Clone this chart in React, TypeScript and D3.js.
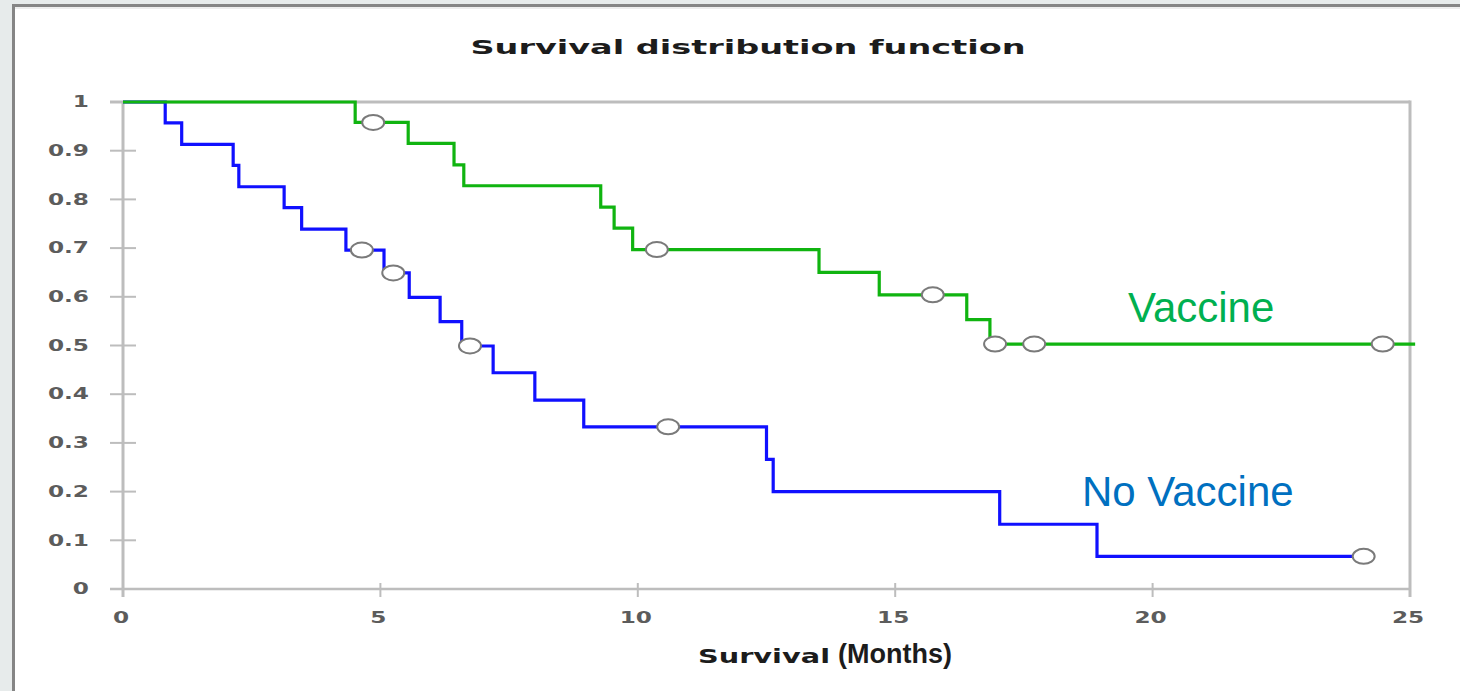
import { useMemo } from 'react';
import * as d3 from 'd3';

// Kaplan-Meier step data (months, survival)
const noVaccineTimes = [0, 0.82, 1.14, 2.14, 2.25, 3.13, 3.47, 4.33, 5.07, 5.56, 6.16, 6.58, 7.19, 8.0, 8.95, 12.5, 12.63, 17.03, 18.92];
const noVaccineSurv = [1, 0.957, 0.913, 0.87, 0.826, 0.783, 0.739, 0.696, 0.649, 0.599, 0.549, 0.499, 0.444, 0.388, 0.333, 0.266, 0.2, 0.133, 0.067];
const noVaccineEnd = 24.1;
const noVaccineCensored = [4.64, 5.25, 6.74, 10.59, 24.1];

const vaccineTimes = [0, 4.51, 5.54, 6.43, 6.62, 9.28, 9.54, 9.9, 13.52, 14.69, 16.39, 16.84];
const vaccineSurv = [1, 0.958, 0.915, 0.871, 0.828, 0.784, 0.741, 0.697, 0.65, 0.604, 0.553, 0.503];
const vaccineEnd = 25.1;
const vaccineCensored = [4.86, 10.37, 15.73, 16.94, 17.7, 24.47];

const yTicks = [0, 0.1, 0.2, 0.3, 0.4, 0.5, 0.6, 0.7, 0.8, 0.9, 1];
const xTicks = [0, 5, 10, 15, 20, 25];

const W = 1460;
const H = 691;
const PLOT = { left: 123, right: 1410, top: 102, bottom: 589 };
const AXIS_GRAY = '#bdbdbd';
const LABEL_GRAY = '#5c5c5c';
const TICK_FONT = '"DejaVu Sans", Verdana, sans-serif';
const ARIAL = '"Liberation Sans", Arial, sans-serif';

type Pt = { t: number; s: number };

function buildSteps(times: number[], surv: number[], end: number): Pt[] {
  const pts = times.map((t, i) => ({ t, s: surv[i] }));
  pts.push({ t: end, s: surv[surv.length - 1] });
  return pts;
}

function survAt(times: number[], surv: number[], t: number) {
  let v = surv[0];
  times.forEach((tt, i) => {
    if (tt <= t) v = surv[i];
  });
  return v;
}

export default function App() {
  const x = useMemo(() => d3.scaleLinear().domain([0, 25]).range([PLOT.left, PLOT.right]), []);
  const y = useMemo(() => d3.scaleLinear().domain([0, 1]).range([PLOT.bottom, PLOT.top]), []);

  const line = d3.line<Pt>()
    .x(d => x(d.t))
    .y(d => y(d.s))
    .curve(d3.curveStepAfter);

  const series = [
    { key: 'no', color: '#1010ff', pts: buildSteps(noVaccineTimes, noVaccineSurv, noVaccineEnd),
      cens: noVaccineCensored.map(t => ({ t, s: survAt(noVaccineTimes, noVaccineSurv, t) })) },
    { key: 'vac', color: '#10b410', pts: buildSteps(vaccineTimes, vaccineSurv, vaccineEnd),
      cens: vaccineCensored.map(t => ({ t, s: survAt(vaccineTimes, vaccineSurv, t) })) },
  ];

  return (
    <svg width={W} height={H} style={{ position: 'absolute', left: 0, top: 0 }}>
      {/* page background + slide frame */}
      <rect x={0} y={0} width={W} height={H} fill="#e7ebeb" />
      <rect x={13} y={6} width={W} height={H} fill="#ffffff" />
      <line x1={13.5} x2={13.5} y1={4} y2={H} stroke="#858585" strokeWidth={3} />
      <line x1={12} x2={W} y1={5.5} y2={5.5} stroke="#858585" strokeWidth={3} />
      <line x1={15} x2={W} y1={8} y2={8} stroke="#dcdcdc" strokeWidth={1} />

      {/* title */}
      <text x={748} y={54} textAnchor="middle" fontFamily={TICK_FONT} fontWeight="bold" fontSize={20}
        fill="#1c1c1c" textLength={555} lengthAdjust="spacingAndGlyphs">
        Survival distribution function
      </text>

      {/* plot frame and axes */}
      <line x1={PLOT.left - 13} x2={PLOT.right} y1={PLOT.top} y2={PLOT.top} stroke={AXIS_GRAY} strokeWidth={3} />
      <line x1={PLOT.right} x2={PLOT.right} y1={PLOT.top - 1.5} y2={PLOT.bottom + 8} stroke={AXIS_GRAY} strokeWidth={3} />
      <line x1={PLOT.left} x2={PLOT.left} y1={PLOT.top} y2={PLOT.bottom + 8} stroke={AXIS_GRAY} strokeWidth={3} />
      <line x1={PLOT.left - 13} x2={PLOT.right} y1={PLOT.bottom} y2={PLOT.bottom} stroke={AXIS_GRAY} strokeWidth={2.5} />

      {yTicks.map(v => (
        <g key={`y${v}`}>
          <line x1={PLOT.left - 13} x2={PLOT.left + 13} y1={y(v)} y2={y(v)} stroke={AXIS_GRAY} strokeWidth={2} />
          <text transform={`translate(89,${y(v)}) scale(1.45,1)`} textAnchor="end" dominantBaseline="central"
            fontFamily={TICK_FONT} fontWeight="bold" fontSize={16} fill={LABEL_GRAY}>
            {v === 0 || v === 1 ? String(v) : v.toFixed(1)}
          </text>
        </g>
      ))}

      {xTicks.map(v => (
        <g key={`x${v}`}>
          <line x1={x(v)} x2={x(v)} y1={PLOT.bottom - 6} y2={PLOT.bottom + 8} stroke={AXIS_GRAY} strokeWidth={2} />
          <text transform={`translate(${x(v) - 2},${618}) scale(1.45,1)`} textAnchor="middle" dominantBaseline="central"
            fontFamily={TICK_FONT} fontWeight="bold" fontSize={16} fill={LABEL_GRAY}>
            {v}
          </text>
        </g>
      ))}

      {/* x axis title */}
      <text x={698} y={663} fontFamily={TICK_FONT} fontWeight="bold" fontSize={20} fill="#1c1c1c"
        textLength={132} lengthAdjust="spacingAndGlyphs">
        Survival
      </text>
      <text x={838} y={663} fontFamily={ARIAL} fontWeight="bold" fontSize={27} fill="#1c1c1c">
        (Months)
      </text>

      {/* survival curves */}
      {series.map(s => (
        <path key={s.key} d={line(s.pts) ?? ''} fill="none" stroke={s.color} strokeWidth={3.2} />
      ))}
      {series.map(s => s.cens.map((c, i) => (
        <ellipse key={`${s.key}-c${i}`} cx={x(c.t)} cy={y(c.s)} rx={11} ry={7.5}
          fill="#ffffff" stroke="#7a7a7a" strokeWidth={2} />
      )))}

      {/* labels */}
      <text x={1128} y={322} fontFamily={ARIAL} fontSize={42} fill="#00b050">
        Vaccine
      </text>
      <text x={1082} y={506} fontFamily={ARIAL} fontSize={42} fill="#0070c0">
        No Vaccine
      </text>
    </svg>
  );
}
